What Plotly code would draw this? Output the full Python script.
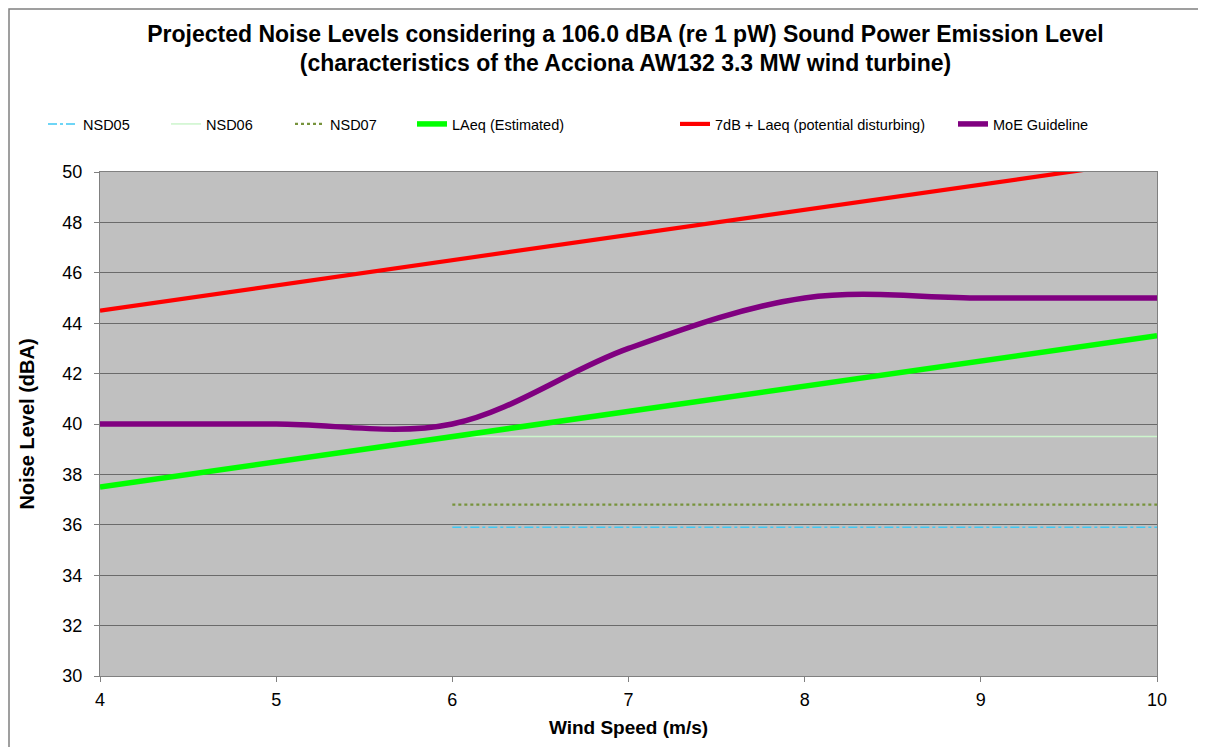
import plotly.graph_objects as go

wind_speed = [4, 5, 6, 7, 8, 9, 10]
nsd05 = [None, None, 35.9, 35.9, 35.9, 35.9, 35.9]
nsd06 = [None, None, 39.5, 39.5, 39.5, 39.5, 39.5]
nsd07 = [None, None, 36.8, 36.8, 36.8, 36.8, 36.8]
laeq = [37.5, 38.5, 39.5, 40.5, 41.5, 42.5, 43.5]
laeq_plus7 = [44.5, 45.5, 46.5, 47.5, 48.5, 49.5, 50.5]
moe = [40, 40, 40, 43, 45, 45, 45]

OFF = 8
SW, SH = 1206, 747
W, H = SW - OFF, SH - OFF
L, R, T, B = 100 - OFF, SW - 1157, 172 - OFF, SH - 676
FONT = "Liberation Sans, Arial, sans-serif"

series = [
    ("NSD05", nsd05, dict(color="#3FC8F4", width=1.5, dash="dashdot"), "linear", 83),
    ("NSD06", nsd06, dict(color="#CCF5CC", width=1.5), "linear", 206),
    ("NSD07", nsd07, dict(color="#77933C", width=2.2, dash="dot"), "linear", 330),
    ("LAeq (Estimated)", laeq, dict(color="#00FF00", width=5.5), "linear", 452),
    ("7dB + Laeq (potential disturbing)", laeq_plus7, dict(color="#FF0000", width=4.2), "linear", 715),
    ("MoE Guideline", moe, dict(color="#800080", width=5.5), "spline", 993),
]

fig = go.Figure()
layout_legends = {}
for i, (name, ys, line, shape, text_x) in enumerate(series):
    lg = "legend" if i == 0 else f"legend{i+1}"
    ln = dict(line)
    if shape == "spline":
        ln["shape"] = "spline"
        ln["smoothing"] = 1.0
    fig.add_trace(go.Scatter(x=wind_speed, y=ys, mode="lines", name=name, line=ln,
                             legend=lg, connectgaps=False, hoverinfo="x+y+name"))
    layout_legends[lg] = dict(
        x=(text_x - 48) / W, xref="container", xanchor="left",
        y=1 - 100 / H, yref="container", yanchor="top",
        orientation="h", bgcolor="rgba(0,0,0,0)", itemwidth=30,
        font=dict(family=FONT, size=14.5, color="#000000"),
    )

fig.update_layout(
    width=W, height=H,
    paper_bgcolor="#FFFFFF", plot_bgcolor="#C0C0C0",
    margin=dict(l=L, r=R, t=T, b=B, autoexpand=False),
    font=dict(family=FONT, size=18, color="#000000"),
    title=dict(
        text="<b>Projected Noise Levels considering a 106.0 dBA (re 1 pW) Sound Power Emission Level<br>(characteristics of the Acciona AW132 3.3 MW wind turbine)</b>",
        x=(L + (W - L - R) / 2 - 3) / W, xanchor="center", y=1 - 33.5 / H, yanchor="top",
        font=dict(family=FONT, size=23, color="#000000"),
    ),
    xaxis=dict(
        range=[4, 10], dtick=1, tick0=4, showgrid=False, zeroline=False, automargin=False,
        showline=True, linecolor="#808080", linewidth=1, mirror=True,
        ticks="outside", ticklen=5, tickcolor="#808080", ticklabelstandoff=2,
        tickfont=dict(family=FONT, size=18),
        title=dict(text="<b>Wind Speed (m/s)</b>", font=dict(family=FONT, size=19), standoff=12),
    ),
    yaxis=dict(
        range=[30, 50], dtick=2, tick0=30, showgrid=True, gridcolor="#6A6A6A", gridwidth=1,
        zeroline=False, automargin=False, showline=True, linecolor="#808080", linewidth=1, mirror=True,
        ticks="outside", ticklen=5, tickcolor="#808080", ticklabelstandoff=8,
        tickfont=dict(family=FONT, size=18),
        title=dict(text="<b>Noise Level (dBA)</b>", font=dict(family=FONT, size=20), standoff=22),
    ),
    showlegend=True,
    **layout_legends,
)

# outer chart-area border (top and left edges visible in the crop)
pw, ph = W - L - R, H - T - B
fig.add_shape(type="rect", xref="paper", yref="paper",
              x0=(1 - L) / pw, x1=(W + 20 - L) / pw,
              y0=-(B + 20) / ph, y1=(H - B - 1) / ph,
              line=dict(color="#808080", width=1.5), fillcolor="rgba(0,0,0,0)", layer="below")

fig.write_html("out.html")
